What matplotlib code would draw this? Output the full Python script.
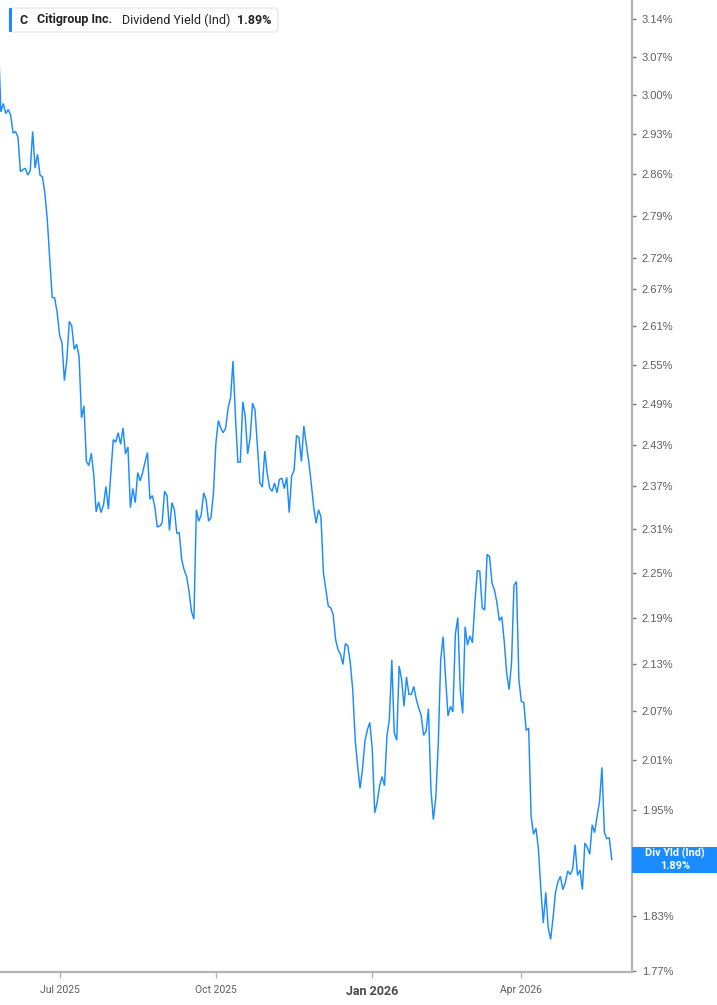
import numpy as np
import pandas as pd
import matplotlib
matplotlib.use("Agg")
import matplotlib.pyplot as plt
from matplotlib.patches import Rectangle, FancyBboxPatch
from matplotlib.ticker import FixedLocator, FuncFormatter, NullLocator

plt.rcParams["font.family"] = ["Roboto", "DejaVu Sans"]

# first trading day shown, and NYSE holidays (the x axis counts trading days)
START = "2025-05-23"
HOLIDAYS = ["2025-05-26", "2025-06-19", "2025-07-04", "2025-09-01", "2025-11-27",
            "2025-12-25", "2026-01-01", "2026-01-19", "2026-02-16", "2026-04-03",
            "2026-05-25"]

# daily indicated dividend yield, %
yields = [
    3.100, 2.970, 2.985, 2.967, 2.974, 2.964, 2.932, 2.935, 2.925, 2.865,
    2.868, 2.871, 2.859, 2.866, 2.935, 2.871, 2.895, 2.859, 2.856, 2.828,
    2.783, 2.717, 2.656, 2.655, 2.633,
    # Jul 2025
    2.597, 2.584, 2.526, 2.558, 2.618, 2.611, 2.574, 2.582, 2.563, 2.470,
    2.488, 2.406, 2.400, 2.418, 2.387, 2.334, 2.348, 2.333, 2.344, 2.370,
    2.338, 2.389, 2.438, 2.434, 2.448, 2.431, 2.455, 2.417, 2.427, 2.340,
    2.367, 2.347, 2.390, 2.378, 2.390, 2.405, 2.419, 2.352, 2.357, 2.341,
    2.313, 2.314, 2.319, 2.363, 2.357, 2.308, 2.347, 2.337, 2.304, 2.305,
    2.268, 2.254, 2.245, 2.225, 2.198, 2.188, 2.337, 2.321, 2.330, 2.361,
    2.351, 2.321, 2.326, 2.361,
    # Oct 2025
    2.433, 2.466, 2.455, 2.448, 2.455, 2.485, 2.500, 2.556, 2.472, 2.405,
    2.405, 2.494, 2.472, 2.417, 2.440, 2.492, 2.482, 2.428, 2.375, 2.369,
    2.421, 2.389, 2.368, 2.363, 2.375, 2.361, 2.380, 2.382, 2.367, 2.383,
    2.333, 2.385, 2.393, 2.444, 2.441, 2.406, 2.458, 2.431, 2.406, 2.375,
    2.342, 2.318, 2.337, 2.327, 2.250, 2.227, 2.205, 2.203, 2.194, 2.161,
    2.148, 2.142, 2.129, 2.156, 2.153, 2.131, 2.097, 2.035, 2.003, 1.976,
    1.999, 2.033, 2.047, 2.056,
    # Jan 2026
    2.023, 1.947, 1.959, 1.979, 1.990, 1.979, 2.039, 2.060, 2.135, 2.043,
    2.034, 2.127, 2.110, 2.076, 2.113, 2.091, 2.091, 2.101, 2.085, 2.074,
    2.065, 2.040, 2.045, 2.073, 1.975, 1.939, 1.965, 2.029, 2.135, 2.165,
    2.112, 2.064, 2.076, 2.069, 2.168, 2.190, 2.097, 2.067, 2.178, 2.154,
    2.166, 2.157, 2.210, 2.253, 2.252, 2.203, 2.200, 2.275, 2.272, 2.236,
    2.227, 2.210, 2.186, 2.191, 2.159, 2.118, 2.097, 2.131, 2.233, 2.238,
    2.110,
    # Apr 2026
    2.082, 2.081, 2.046, 2.049, 1.943, 1.922, 1.929, 1.905, 1.859, 1.822,
    1.856, 1.817, 1.804, 1.828, 1.856, 1.868, 1.874, 1.859, 1.867, 1.880,
    1.876, 1.882, 1.910, 1.875, 1.881, 1.859, 1.912, 1.907, 1.899, 1.933,
    1.924, 1.943, 1.960, 2.001, 1.924, 1.917, 1.918, 1.893,
]

y_ticks = [1.77, 1.83, 1.89, 1.95, 2.01, 2.07, 2.13, 2.19, 2.25, 2.31, 2.37, 2.43,
           2.49, 2.55, 2.61, 2.67, 2.72, 2.79, 2.86, 2.93, 3.00, 3.07, 3.14]
month_ticks = ["2025-07-01", "2025-10-01", "2026-01-01", "2026-04-01"]

ticker = "C"
company = "Citigroup Inc."
metric = "Dividend Yield (Ind)"
short_metric = "Div Yld (Ind)"

BLUE = "#1a8cff"
AXIS_GREY = "#b4b4b4"
TEXT_GREY = "#5f5f5f"

W, H = 717, 1005


def fx(px):
    return px / W


def fy(py):
    return 1 - py / H


dates = pd.bdate_range(START, periods=len(yields), freq="C", holidays=HOLIDAYS)
x = np.arange(len(yields))
tick_pos = [dates.searchsorted(pd.Timestamp(m)) for m in month_ticks]
jul = tick_pos[0]
last_val = yields[-1]

fig = plt.figure(figsize=(W / 100, H / 100), dpi=100)
ax = fig.add_axes([0, 33 / H, 632 / W, 972 / H])

ax.plot(x, yields, color=BLUE, lw=1.05, solid_joinstyle="miter")

ax.set_yscale("log")
ax.set_ylim(1.769, 3.177)
ax.set_xlim(jul - 24.36, jul + 234.3)


def pct(v, p):
    # the current-value flag covers the label at the last value
    if abs(v - round(last_val, 2)) < 1e-9:
        return ""
    return f"{v:.2f}%"


ax.yaxis.tick_right()
ax.yaxis.set_major_locator(FixedLocator(y_ticks))
ax.yaxis.set_minor_locator(NullLocator())
ax.yaxis.set_major_formatter(FuncFormatter(pct))
ax.tick_params(axis="y", which="major", direction="out", length=3, width=1,
               color="#777777", labelsize=8, labelcolor=TEXT_GREY, pad=4)
for lab in ax.get_yticklabels():
    lab.set_family(["Liberation Sans", "DejaVu Sans"])

ax.set_xticks(tick_pos)
ax.set_xticklabels([dates[p].strftime("%b %Y") for p in tick_pos])
ax.tick_params(axis="x", direction="out", length=4, width=1, color=AXIS_GREY,
               labelsize=7.5, labelcolor=TEXT_GREY, pad=5)
for lab in ax.get_xticklabels():
    if lab.get_text().startswith("Jan"):
        lab.set_fontweight("bold")
        lab.set_fontsize(9)
        lab.set_color("#4a4a4a")

for side in ("top", "left"):
    ax.spines[side].set_visible(False)
for side in ("right", "bottom"):
    ax.spines[side].set_color(AXIS_GREY)
    ax.spines[side].set_linewidth(1.6)
ax.patch.set_alpha(0)

# header box
fig.patches.append(FancyBboxPatch((fx(9), fy(32)), fx(269), 24 / H,
                                  boxstyle="round,pad=0,rounding_size=0.004",
                                  transform=fig.transFigure, facecolor="white",
                                  edgecolor="#e4e4e4", linewidth=0.8))
fig.patches.append(Rectangle((fx(9), fy(32)), fx(3), 24 / H, transform=fig.transFigure,
                             facecolor=BLUE, edgecolor="none"))
fig.text(fx(19), fy(20), ticker, fontsize=9, fontweight="bold", color="#222222", va="center")
fig.text(fx(37), fy(20), company, fontsize=9, fontweight="bold", color="#222222", va="center")
fig.text(fx(122), fy(20), metric, fontsize=9, color="#222222", va="center")
fig.text(fx(237), fy(20), f"{last_val:.2f}%", fontsize=9, fontweight="bold",
         color="#222222", va="center")

# last value flag on the axis
last_py = H - ax.transData.transform((x[-1], last_val))[1]
fig.patches.append(Rectangle((fx(632), fy(last_py + 13)), fx(85), 26 / H,
                             transform=fig.transFigure, facecolor=BLUE, edgecolor="none",
                             zorder=5))
fig.text(fx(675), fy(last_py - 6), short_metric, fontsize=7.8, fontweight="bold",
         color="white", ha="center", va="center", zorder=6)
fig.text(fx(675), fy(last_py + 6), f"{last_val:.2f}%", fontsize=7.8, fontweight="bold",
         color="white", ha="center", va="center", zorder=6)

fig.savefig("out.png", dpi=100)
